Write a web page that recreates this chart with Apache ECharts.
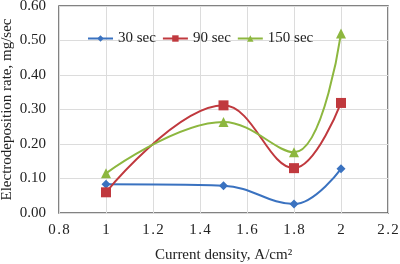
<!DOCTYPE html>
<html><head><meta charset="utf-8">
<script src="https://cdn.jsdelivr.net/npm/echarts@6/dist/echarts.min.js"></script>
<style>html,body{margin:0;padding:0;background:#fff}#c{width:400px;height:264px}</style>
</head><body><div id="c"></div>
<script>
const xValues = [1, 1.5, 1.8, 2];
const s30 = [0.083, 0.079, 0.026, 0.128];
const s90 = [0.060, 0.312, 0.130, 0.319];
const s150 = [0.115, 0.264, 0.176, 0.520];
const seriesNames = ['30 sec', '90 sec', '150 sec'];
const colors = ['#3A72C0', '#C0393E', '#8DB73F'];
const symbols = ['diamond', 'rect', 'triangle'];
const font = '"Liberation Serif", "Times New Roman", serif';
const pair = a => xValues.map((x, i) => [x, a[i]]);
const chart = echarts.init(document.getElementById('c'));
chart.setOption({
  animation: false,
  textStyle: {fontFamily: font},
  grid: {left: 59, right: 12, top: 6, bottom: 51, show: true, borderColor: '#595959', borderWidth: 1.5,
    containLabel: false, outerBoundsMode: 'none'},
  legend: {
    data: seriesNames, top: 26, left: 82, itemGap: 6, itemWidth: 25, itemHeight: 8,
    textStyle: {fontFamily: font, fontSize: 15, color: '#222'}
  },
  xAxis: {
    type: 'value', min: 0.8, max: 2.2, interval: 0.2,
    name: 'Current density, A/cm²', nameLocation: 'middle', nameGap: 35, nameMoveOverlap: false,
    nameTextStyle: {fontFamily: font, fontSize: 15, color: '#222'},
    axisLine: {show: false}, axisTick: {show: false},
    axisLabel: {fontFamily: font, fontSize: 15, color: '#222', margin: 10,
      formatter: v => String(Math.round(v * 10) / 10).split('').join('\u200A')},
    splitLine: {show: true, lineStyle: {color: '#dcdcdc', width: 1}}
  },
  yAxis: {
    type: 'value', min: 0, max: 0.6, interval: 0.1,
    name: 'Electrodeposition rate, mg/sec', nameLocation: 'middle', nameGap: 44, nameMoveOverlap: false,
    nameTextStyle: {fontFamily: font, fontSize: 15, color: '#222'},
    axisLine: {show: false}, axisTick: {show: false},
    axisLabel: {fontFamily: font, fontSize: 15, color: '#222', margin: 13, formatter: v => v.toFixed(2)},
    splitLine: {show: true, lineStyle: {color: '#dcdcdc', width: 1}}
  },
  series: [s30, s90, s150].map((d, i) => ({
    name: seriesNames[i], type: 'line', data: pair(d), smooth: 0.4,
    symbol: symbols[i], symbolSize: i === 0 ? 9 : 10, showSymbol: true,
    itemStyle: {color: colors[i]}, lineStyle: {color: colors[i], width: 2}
  }))
});
</script></body></html>
